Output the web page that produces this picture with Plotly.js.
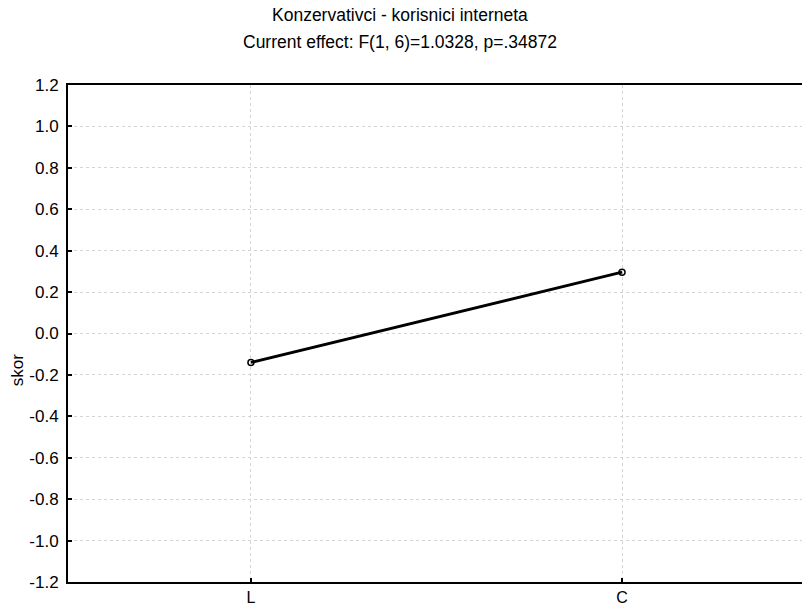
<!DOCTYPE html>
<html>
<head>
<meta charset="utf-8">
<script src="https://cdn.plot.ly/plotly-3.0.1.min.js"></script>
<style>html,body{margin:0;padding:0;background:#fff;}#chart{width:802px;height:609px;}</style>
</head>
<body>
<div id="chart"></div>
<script>
const categories = ["L", "C"];
const xIndex = [0, 1];
const values = [-0.14, 0.296];
const yTickVals = [-1.2, -1.0, -0.8, -0.6, -0.4, -0.2, 0.0, 0.2, 0.4, 0.6, 0.8, 1.0, 1.2];
const yTickText = ["-1.2", "-1.0", "-0.8", "-0.6", "-0.4", "-0.2", "0.0", "0.2", "0.4", "0.6", "0.8", "1.0", "1.2"];
const titleLine1 = "Konzervativci - korisnici interneta";
const titleLine2 = "Current effect: F(1, 6)=1.0328, p=.34872";
const yTitle = "skor";

const font = "Liberation Sans, Arial, sans-serif";

const trace = {
  x: xIndex,
  y: values,
  type: "scatter",
  mode: "lines+markers",
  line: {color: "#000", width: 2.8},
  marker: {symbol: "circle-open", size: 6, color: "#000", line: {width: 1.5, color: "#000"}},
  hoverinfo: "none"
};

const layout = {
  width: 802, height: 609,
  margin: {l: 68, r: 0, t: 85, b: 27},
  paper_bgcolor: "#fff", plot_bgcolor: "#fff",
  showlegend: false,
  font: {family: font, color: "#000", size: 16},
  xaxis: {
    range: [-0.493, 1.485],
    tickvals: xIndex, ticktext: categories,
    showline: true, linecolor: "#000", linewidth: 2, mirror: true,
    ticks: "inside", ticklen: 4, tickwidth: 2, tickcolor: "#000",
    ticklabelstandoff: 0,
    showgrid: true, gridcolor: "#d4d4d4", griddash: "dot", gridwidth: 1,
    zeroline: false, tickfont: {size: 16, family: font}
  },
  yaxis: {
    range: [-1.2, 1.2],
    tickvals: yTickVals, ticktext: yTickText,
    showline: true, linecolor: "#000", linewidth: 2,
    ticks: "inside", ticklen: 4, tickwidth: 2, tickcolor: "#000",
    ticklabelstandoff: 4,
    showgrid: true, gridcolor: "#d4d4d4", griddash: "dot", gridwidth: 1,
    zeroline: false, tickfont: {size: 17, family: font}
  },
  annotations: [
    {text: titleLine1, xref: "paper", yref: "paper", x: 0.452, y: 1.141, showarrow: false,
     xanchor: "center", yanchor: "middle", font: {size: 17.5, family: font}},
    {text: titleLine2, xref: "paper", yref: "paper", x: 0.452, y: 1.0865, showarrow: false,
     xanchor: "center", yanchor: "middle", font: {size: 17.5, family: font}},
    {text: yTitle, xref: "paper", yref: "paper", x: -0.069, y: 0.427, showarrow: false,
     xanchor: "center", yanchor: "middle", textangle: -90, font: {size: 17, family: font}}
  ]
};

Plotly.newPlot("chart", [trace], layout, {staticPlot: true, displayModeBar: false});
</script>
</body>
</html>
